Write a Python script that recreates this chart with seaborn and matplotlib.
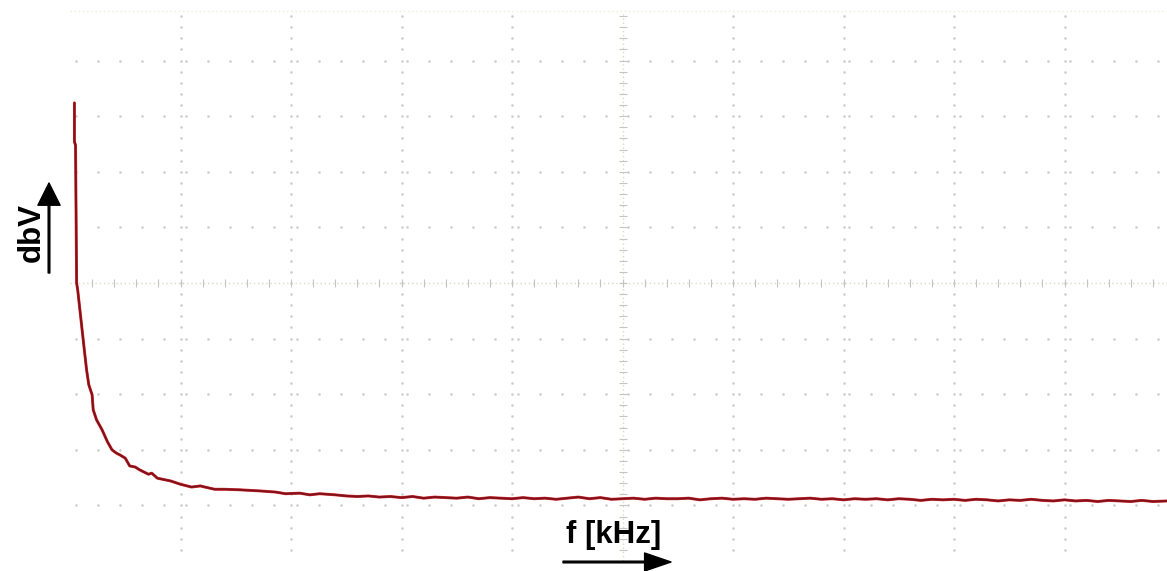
import numpy as np
import matplotlib
matplotlib.use("Agg")
import matplotlib.pyplot as plt
import seaborn as sns

# Spectrum trace (x, y in screen divisions)
freq = [0.04, 0.04, 0.05, 0.06, 0.07, 0.08, 0.11, 0.13, 0.15, 0.17, 0.20, 0.21,
        0.24, 0.29, 0.34, 0.38, 0.42, 0.45, 0.50, 0.54, 0.59, 0.63, 0.71, 0.74,
        0.79, 0.86, 0.91, 1.00, 1.10, 1.18, 1.22, 1.31, 1.40, 1.54, 1.72, 1.86,
        1.95, 2.08, 2.17, 2.26, 2.40, 2.50,
        2.6, 2.7, 2.8, 2.9, 3.0, 3.1, 3.2, 3.3, 3.4, 3.5, 3.6, 3.7, 3.8, 3.9,
        4.0, 4.1, 4.2, 4.3, 4.4, 4.5, 4.6, 4.7, 4.8, 4.9, 5.0, 5.1, 5.2, 5.3,
        5.4, 5.5, 5.6, 5.7, 5.8, 5.9, 6.0, 6.1, 6.2, 6.3, 6.4, 6.5, 6.6, 6.7,
        6.8, 6.9, 7.0, 7.1, 7.2, 7.3, 7.4, 7.5, 7.6, 7.7, 7.8, 7.9, 8.0, 8.1,
        8.2, 8.3, 8.4, 8.5, 8.6, 8.7, 8.8, 8.9, 9.0, 9.1, 9.2, 9.3, 9.4, 9.5,
        9.6, 9.7, 9.8, 9.93]
level = [3.24, 2.54, 2.48, 0.0, -0.13, -0.31, -0.85, -1.21, -1.56, -1.83, -2.01, -2.28,
         -2.46, -2.64, -2.86, -3.00, -3.06, -3.09, -3.15, -3.29, -3.31, -3.36, -3.44, -3.42,
         -3.51, -3.54, -3.56, -3.62, -3.67, -3.65, -3.67, -3.71, -3.71, -3.72, -3.74, -3.76,
         -3.79, -3.78, -3.81, -3.79, -3.81, -3.83,
         -3.84, -3.83, -3.85, -3.84, -3.86, -3.84, -3.87, -3.85, -3.86, -3.87, -3.85, -3.88,
         -3.86, -3.87, -3.88, -3.86, -3.88, -3.87, -3.89, -3.87, -3.85, -3.88, -3.86, -3.89,
         -3.88, -3.87, -3.89, -3.87, -3.88, -3.88, -3.87, -3.90, -3.88, -3.87, -3.89, -3.88,
         -3.89, -3.87, -3.88, -3.89, -3.88, -3.87, -3.89, -3.88, -3.90, -3.88, -3.89, -3.88,
         -3.90, -3.88, -3.89, -3.91, -3.89, -3.90, -3.89, -3.91, -3.89, -3.90, -3.92, -3.90,
         -3.91, -3.89, -3.91, -3.92, -3.90, -3.92, -3.91, -3.93, -3.91, -3.92, -3.93, -3.91,
         -3.93, -3.92]

x_label = "f [kHz]"
y_label = "dbV"

sns.set_style("white")
plt.rcParams['font.family'] = ['Liberation Sans', 'DejaVu Sans']

fig = plt.figure(figsize=(11.67, 5.71), dpi=100)
ax = fig.add_axes([70 / 1167, 10 / 571, 1105 / 1167, 556 / 571])
ax.set_xlim(0, 10)
ax.set_ylim(-5, 5)
ax.axis("off")

# scope graticule: faint dotted divisions
minor_y = np.arange(-4.8, 4.81, 0.2)
minor_x = np.arange(0.05, 10.0, 0.2)
dot_col = "#cfcfcf"
for k in range(1, 10):
    if k == 5:
        continue
    ax.plot(np.full_like(minor_y, k), minor_y, ls="none", marker=".", ms=1.8,
            color=dot_col)
for j in range(-4, 5):
    if j == 0:
        continue
    ax.plot(minor_x, np.full_like(minor_x, j), ls="none", marker=".", ms=1.8,
            color=dot_col)

# center crosshair with tick marks
ax.axhline(0, color="#dedac0", lw=1, ls=(0, (1, 2)))
ax.axvline(5, color="#dedac0", lw=1, ls=(0, (1, 2)), ymax=0.985)
ax.plot(np.arange(0.2, 10.0, 0.2), np.zeros(49), ls="none", marker="|", ms=6,
        mew=0.8, color="#c4c4c4")
ax.plot(np.full_like(minor_y, 5), minor_y, ls="none", marker="_", ms=6,
        mew=0.8, color="#c4c4c4")
ax.axhline(4.9, color="#f1ecd2", lw=1, ls=(0, (1, 2)))

# trace
sns.lineplot(x=freq, y=level, sort=False, estimator=None, ax=ax,
             color="#d83434", lw=2.1)
sns.lineplot(x=freq, y=level, sort=False, estimator=None, ax=ax,
             color="#84101a", lw=1.5)

# axis labels with arrows
fig.text(32 / 1167, (571 - 233) / 571, y_label, rotation=90, fontsize=22.5,
         fontweight="bold", ha="center", va="center", color="black")
fig.text(614 / 1167, (571 - 535) / 571, x_label, fontsize=22.5,
         fontweight="bold", ha="center", va="center", color="black")
ax.annotate("", xy=(49, 571 - 183), xytext=(49, 571 - 273),
            xycoords="figure pixels", textcoords="figure pixels",
            arrowprops=dict(width=1.2, headwidth=16, headlength=16,
                            shrink=0, color="black"))
ax.annotate("", xy=(671, 9), xytext=(563, 9),
            xycoords="figure pixels", textcoords="figure pixels",
            arrowprops=dict(width=1.2, headwidth=13, headlength=19,
                            shrink=0, color="black"))

plt.savefig("out.png", dpi=100)
